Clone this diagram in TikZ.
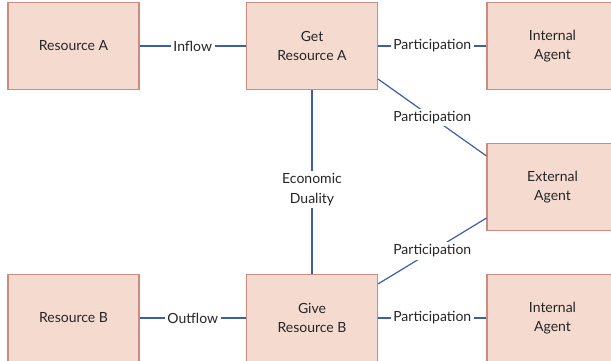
\documentclass[tikz,border=0pt]{standalone}
\usepackage{fontspec}
\setmainfont{Lato}
\definecolor{boxfill}{HTML}{F4DACF}
\definecolor{boxline}{HTML}{CC8A80}
\definecolor{linkblue}{HTML}{3F5CA8}
\begin{document}
\begin{tikzpicture}[x=1pt,y=-1pt,
  entity/.style={draw=boxline,fill=boxfill,line width=1.1pt,
    minimum width=131pt,minimum height=87pt,align=center,
    font=\fontsize{14}{19.5}\selectfont,text=black!85},
  pair/.style={entity,text depth=-2pt},
  link/.style={draw=linkblue,line width=1.2pt},
  lbl/.style={fill=white,inner sep=2.5pt,align=center,
    font=\fontsize{14}{19.5}\selectfont,text=black!85}]
\useasboundingbox (0,0) rectangle (611,360);
\clip (0,0) rectangle (611,360);
% entities
\node[entity] (resA)  at (73.5,46)  {Resource A};
\node[entity] (getA)  at (312,46) {Get\\Resource A};
\node[entity] (intA)  at (552.5,46) {Internal\\Agent};
\node[entity] (extA)  at (552.5,187) {External\\Agent};
\node[entity] (resB)  at (73.5,318) {Resource B};
\node[entity] (giveB) at (312,318) {Give\\Resource B};
\node[entity] (intB)  at (552.5,318) {Internal\\Agent};
% relations
\draw[link] (resA) -- node[lbl]{Inflow} (getA);
\draw[link] (getA) -- node[lbl]{Participation} (intA);
\draw[link] (resB) -- node[lbl]{Outflow} (giveB);
\draw[link] (giveB) -- node[lbl]{Participation} (intB);
\draw[link] (getA.south) -- node[lbl,pos=0.54]{Economic\\Duality} (giveB.north);
\draw[link] ([yshift=11pt]getA.south east) -- node[lbl]{Participation} ([yshift=-13pt]extA.north west);
\draw[link] ([yshift=-10pt]giveB.north east) -- node[lbl]{Participation} ([yshift=13pt]extA.south west);
\end{tikzpicture}
\end{document}
